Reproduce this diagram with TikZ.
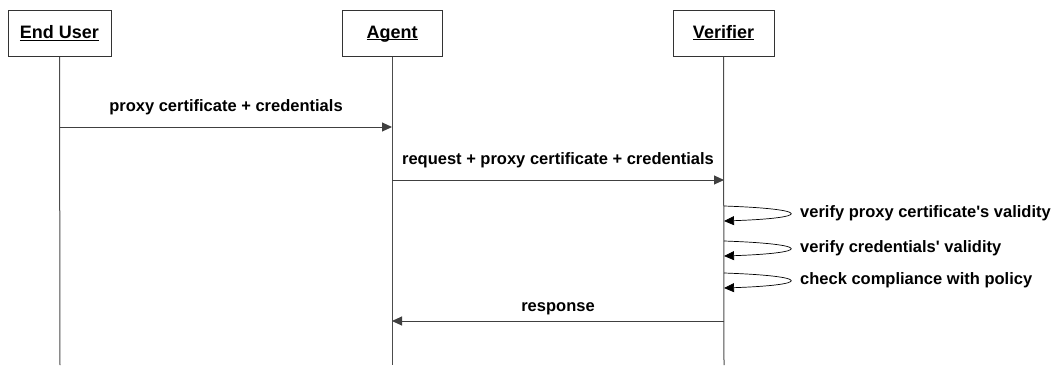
\documentclass[tikz,border=0pt]{standalone}
\usepackage{fontspec}
\setmainfont{Liberation Sans}
\usetikzlibrary{arrows.meta}

\begin{document}
\begin{tikzpicture}[x=1pt,y=-1pt,
  font=\fontsize{16.5}{20}\selectfont\bfseries,
  actor/.style={draw=black!80,line width=1pt,inner sep=0pt,minimum width=101pt,minimum height=46pt,
    font=\fontsize{18}{22}\selectfont\bfseries,text height=14pt,text depth=4pt},
  life/.style={draw=black!70,line width=1pt},
  msg/.style={draw=black!75,line width=1pt,-{Triangle[length=10pt,width=9pt]}},
  selfmsg/.style={draw=black,line width=0.7pt,-{Triangle[length=10pt,width=9pt]}},
  lbl/.style={inner sep=0pt,anchor=base}]
\useasboundingbox (0,0) rectangle (1055,365);
% actors
\node [actor,minimum width=103pt] (user) at (59.5,33.5) {\underline{\smash{End User}}};
\node [actor,minimum width=100pt] (agent) at (392,33) {\underline{\smash{Agent}}};
\node [actor] (verifier) at (723.5,33) {\underline{\smash{Verifier}}};
% lifelines
\coordinate (userend) at (60,365);
\coordinate (agentend) at (392,365);
\coordinate (verend) at (724,365);
\draw [life] (user.south) -- (userend);
\draw [life] (agent.south) -- (agentend);
\draw [life] (verifier.south) -- (verend);
% messages
\coordinate (m1a) at (60,127);
\coordinate (m1b) at (392,127);
\coordinate (m2a) at (392,180);
\coordinate (m2b) at (724,180);
\coordinate (m3a) at (724,321);
\coordinate (m3b) at (392,321);
\draw [msg] (m1a) -- node [lbl,midway,yshift=16pt] {proxy certificate + credentials} (m1b);
\draw [msg] (m2a) -- node [lbl,midway,yshift=16pt] {request + proxy certificate + credentials} (m2b);
\draw [msg] (m3a) -- node [lbl,midway,yshift=10pt] {response} (m3b);
% self checks
\foreach \name/\top/\bot/\txt in {s1/206/221/verify proxy certificate\textquotesingle s validity,
                                 s2/241/256/verify credentials\textquotesingle\ validity,
                                 s3/273/288/check compliance with policy} {
  \coordinate (\name a) at (724,\top);
  \coordinate (\name b) at (724,\bot);
  \draw [selfmsg] (\name a) .. controls +(88,3) and +(88,-3) .. (\name b);
  \node [inner sep=0pt,anchor=west] (\name t) at (800,{(\top+\bot)/2}) {\txt};
}
\end{tikzpicture}
\end{document}
